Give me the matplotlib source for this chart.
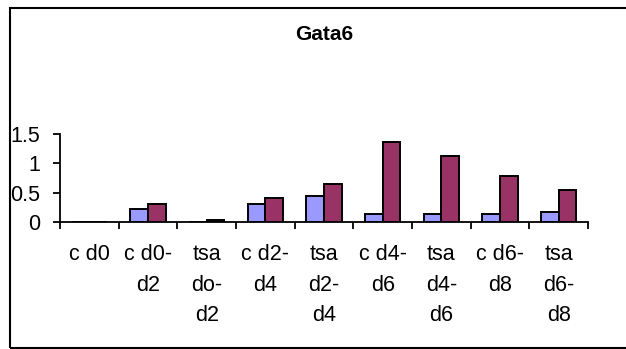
import matplotlib
matplotlib.use("Agg")
import matplotlib.pyplot as plt
from matplotlib.patches import Rectangle
import numpy as np

plt.rcParams['font.family'] = ['Liberation Sans', 'DejaVu Sans']

categories = ["c d0", "c d0-\nd2", "tsa\ndo-\nd2", "c d2-\nd4", "tsa\nd2-\nd4",
              "c d4-\nd6", "tsa\nd4-\nd6", "c d6-\nd8", "tsa\nd6-\nd8"]
series_c = [0.0, 0.23, 0.0, 0.31, 0.44, 0.13, 0.13, 0.13, 0.165]
series_tsa = [0.0, 0.31, 0.04, 0.41, 0.64, 1.36, 1.12, 0.78, 0.545]
y_ticks = [0, 0.5, 1, 1.5]
y_tick_labels = ["0", "0.5", "1", "1.5"]
title = "Gata6"

W, H = 626, 349
fig = plt.figure(figsize=(W / 100, H / 100), dpi=100)
fig.patch.set_facecolor("white")

ax = fig.add_axes([60 / W, 1 - 222 / H, (588 - 60) / W, (222 - 134) / H])
x = np.arange(len(categories))
bw = 0.3
ax.bar(x - bw / 2, series_c, width=bw, color="#9999FF", edgecolor="black",
       linewidth=1.4, zorder=3)
ax.bar(x + bw / 2, series_tsa, width=bw, color="#993366", edgecolor="black",
       linewidth=1.4, zorder=3)

ax.set_xlim(-0.5, len(categories) - 0.5)
ax.set_ylim(0, 1.5)
ax.set_yticks(y_ticks)
ax.set_yticklabels(y_tick_labels, fontsize=15.5)
ax.set_xticks(np.arange(len(categories) + 1) - 0.5)
ax.set_xticklabels([])
ax.set_xticks(x, minor=True)
ax.set_xticklabels(categories, minor=True, fontsize=15.5, linespacing=1.58,
                   va="top", ha="center", multialignment="center")
ax.tick_params(axis="x", which="minor", length=0, pad=16)
ax.tick_params(axis="x", which="major", direction="out", length=5, width=1.3)
ax.tick_params(axis="y", direction="out", length=5, width=1.3, pad=9)

for s in ["top", "right"]:
    ax.spines[s].set_visible(False)
for s in ["left", "bottom"]:
    ax.spines[s].set_linewidth(1.3)
    ax.spines[s].set_color("black")
ax.set_facecolor("none")

fig.text(324 / W, 1 - 34 / H, title, ha="center", va="center",
         fontsize=15, fontweight="bold")

# chart frame
fig.patches.append(Rectangle((9.5 / W, 1.0 / H), 1.2, (348 - 7.5) / H,
                             transform=fig.transFigure, fill=False,
                             edgecolor="black", linewidth=1.5, clip_on=False))

fig.savefig("out.png", dpi=100)
